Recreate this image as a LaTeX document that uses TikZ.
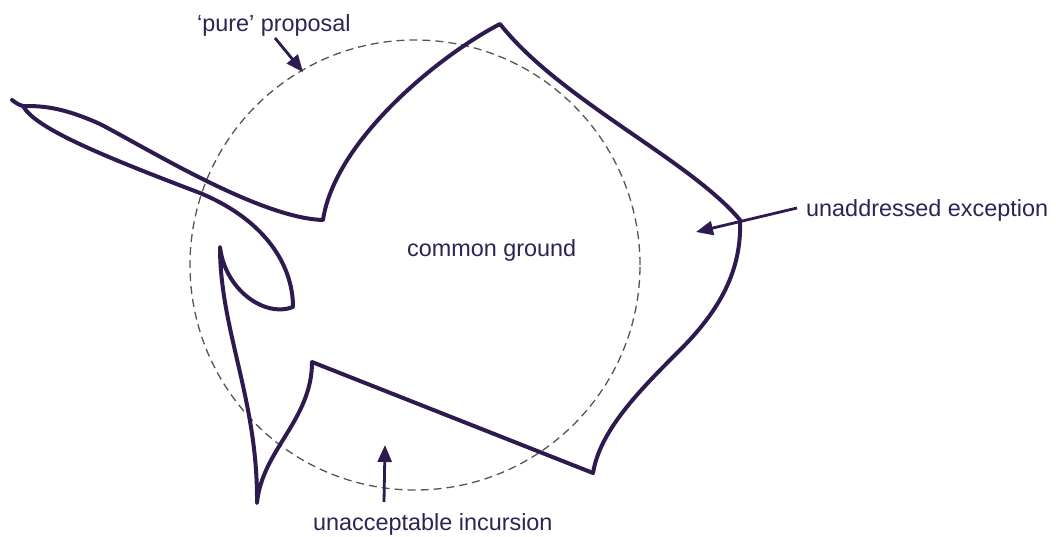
\documentclass[tikz,border=0pt]{standalone}
\usepackage{fontspec}
\setmainfont{Liberation Sans}
\usetikzlibrary{arrows.meta}
\definecolor{ink}{HTML}{2E1A4F}
\definecolor{txt}{HTML}{2B2455}
\definecolor{dashgray}{HTML}{555555}
\begin{document}
\begin{tikzpicture}[x=1pt,y=-1pt,
  outline/.style={draw=ink,line width=4pt,line join=round,line cap=round},
  pointer/.style={draw=ink,line width=2.8pt,-{Triangle[length=17pt,width=14pt]}},
  lbl/.style={text=txt,font=\fontsize{23.4}{28}\selectfont,inner sep=0pt,anchor=base west},
  ring/.style={draw=dashgray,line width=1.3pt,dash pattern=on 8pt off 5pt}]
\useasboundingbox (0,0) rectangle (1056,536);
% dashed circle
\node[ring,circle,minimum size=450pt,inner sep=0pt] (ringnode) at (415,265) {};
% outline
\draw[outline] (12,100) .. controls (16,103) and (19,105) .. (23,106)
  .. controls (35,128) and (100,155) .. (200,193)
  .. controls (265,220) and (293,265) .. (293,307)
  .. controls (265,318) and (225,290) .. (220,247)
  .. controls (220,330) and (258,400) .. (257,503)
  .. controls (262,450) and (312,420) .. (312,362)
  -- (593,473)
  .. controls (600,430) and (640,390) .. (680,350)
  .. controls (720,310) and (742,270) .. (740,220)
  .. controls (690,160) and (560,100) .. (500,24)
  .. controls (440,55) and (335,140) .. (323,220)
  .. controls (260,218) and (150,150) .. (100,124)
  .. controls (60,106) and (40,106) .. (23,106);
% labels
\node[lbl] (pure) at (197,31) {‘pure’ proposal};
\node[lbl] (common) at (407,256) {common ground};
\node[lbl] (unadd) at (806,216) {unaddressed exception};
\node[lbl] (unacc) at (313,530) {unacceptable incursion};
% arrow endpoints
\coordinate (pureS) at (275,38);
\coordinate (pureT) at (303,72);
\coordinate (unaddS) at (797,208);
\coordinate (unaddT) at (696,232);
\coordinate (unaccS) at (384,502);
\coordinate (unaccT) at (385,445);
\draw[pointer] (pureS) -- (pureT);
\draw[pointer] (unaddS) -- (unaddT);
\draw[pointer] (unaccS) -- (unaccT);
\end{tikzpicture}
\end{document}
